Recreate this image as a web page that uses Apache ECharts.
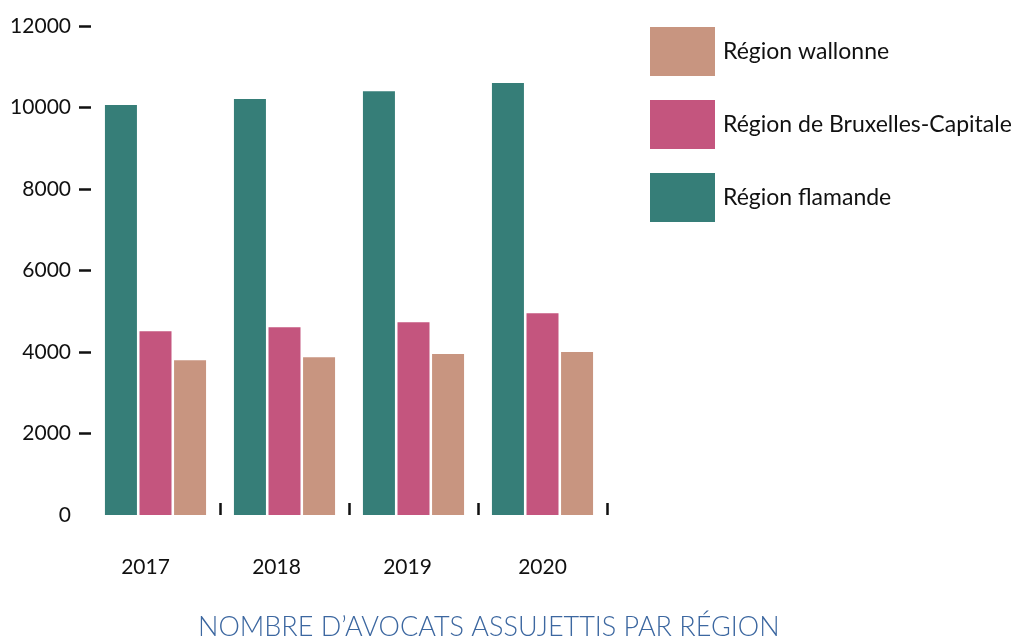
<!DOCTYPE html>
<html>
<head>
<meta charset="utf-8">
<script src="https://cdn.jsdelivr.net/npm/echarts@6/dist/echarts.min.js"></script>
<style>
  html, body { margin: 0; padding: 0; background: #fff; }
  #chart { width: 1013px; height: 639px; }
</style>
</head>
<body>
<div id="chart"></div>
<script>
// données
var years = ["2017", "2018", "2019", "2020"];
var flamande = [10060, 10210, 10400, 10600];
var bruxelles = [4510, 4610, 4730, 4950];
var wallonne = [3800, 3870, 3950, 4000];
var yTicks = [0, 2000, 4000, 6000, 8000, 10000, 12000];

var chart = echarts.init(document.getElementById("chart"));
var font = "Lato";

// les années sont un peu décalées vers la gauche dans l'original
var labelRich = {
  a: { padding: [0, 20, 0, 0] },
  b: { padding: [0, 16, 0, 0] },
  c: { padding: [0, 12, 0, 0] },
  d: { padding: [0, 0, 0, 0] }
};
var richKeys = ["a", "b", "c", "d"];

chart.setOption({
  backgroundColor: "#fff",
  animation: false,
  title: {
    text: "NOMBRE D\u2019AVOCATS ASSUJETTIS PAR RÉGION",
    left: 193,
    top: 609,
    textStyle: {
      fontFamily: font,
      fontSize: 27,
      fontWeight: 300,
      color: "#3c67a0"
    }
  },
  legend: {
    orient: "vertical",
    left: 645,
    top: 22,
    itemWidth: 65,
    itemHeight: 49,
    itemGap: 24,
    icon: "rect",
    data: ["Région wallonne", "Région de Bruxelles-Capitale", "Région flamande"],
    textStyle: {
      fontFamily: font,
      fontSize: 23,
      color: "#111",
      padding: [0, 0, 0, 3]
    }
  },
  grid: {
    left: 91,
    right: 406,
    top: 26,
    bottom: 124,
    containLabel: false
  },
  xAxis: {
    type: "category",
    data: years,
    axisLine: { show: false },
    axisTick: {
      show: true,
      inside: true,
      length: 12,
      // pas de trait au début de l'axe
      interval: function (index) { return index > 0; },
      lineStyle: { color: "#111", width: 2.5 }
    },
    axisLabel: {
      margin: 42,
      fontFamily: font,
      fontSize: 21,
      color: "#111",
      formatter: function (v, i) { return "{" + richKeys[i] + "|" + v + "}"; },
      rich: labelRich
    }
  },
  yAxis: {
    type: "value",
    min: yTicks[0],
    max: yTicks[yTicks.length - 1],
    interval: 2000,
    axisLine: { show: false },
    axisTick: {
      show: true,
      length: 12,
      customValues: yTicks.slice(1),
      lineStyle: { color: "#111", width: 2.5 }
    },
    splitLine: { show: false },
    axisLabel: {
      margin: 20,
      fontFamily: font,
      fontSize: 21,
      color: "#111",
      formatter: function (v) { return String(v); }
    }
  },
  series: [
    {
      name: "Région flamande",
      type: "bar",
      barWidth: 32,
      barGap: "8%",
      itemStyle: { color: "#367e78" },
      data: flamande
    },
    {
      name: "Région de Bruxelles-Capitale",
      type: "bar",
      barWidth: 32,
      barGap: "8%",
      itemStyle: { color: "#c4557e" },
      data: bruxelles
    },
    {
      name: "Région wallonne",
      type: "bar",
      barWidth: 32,
      barGap: "8%",
      itemStyle: { color: "#c89580" },
      data: wallonne
    }
  ]
});
</script>
</body>
</html>
